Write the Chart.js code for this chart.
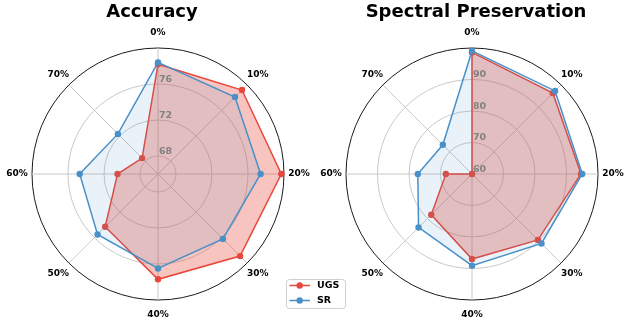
<!DOCTYPE html>
<html>
<head>
<meta charset="utf-8">
<script src="https://cdn.jsdelivr.net/npm/chart.js@4.4.1/dist/chart.umd.min.js"></script>
<style>
  html, body { margin: 0; padding: 0; background: #ffffff; }
  #wrap { position: relative; width: 630px; height: 321px; }
  #wrap canvas { position: absolute; left: 0; top: 0; }
</style>
</head>
<body>
<div id="wrap">
  <canvas id="accuracy" width="630" height="321"></canvas>
  <canvas id="spectral" width="630" height="321"></canvas>
</div>
<script>
// Noise levels around the radar
const categories = ['0%', '10%', '20%', '30%', '40%', '50%', '60%', '70%'];

// Accuracy per noise level
const accuracyUGS = [78.2, 79.2, 79.7, 78.9, 77.7, 74.3, 70.5, 68.5];
const accuracySR  = [78.4, 78.1, 77.4, 76.2, 76.5, 75.5, 74.7, 72.3];

// Spectral preservation per noise level
const spectralUGS = [98.6, 96.3, 94.6, 89.6, 87.0, 78.3, 68.3, 60.0];
const spectralSR  = [99.1, 97.3, 95.0, 91.2, 89.1, 84.0, 77.2, 73.1];

// Radial ranges and labelled rings
const accuracyRange = [66, 80];
const accuracyTicks = [68, 72, 76];
const spectralRange = [60, 100];
const spectralTicks = [60, 70, 80, 90];

const seriesNames = ['UGS', 'SR'];
const RED = '#e8473b';
const BLUE = '#4a90c8';
const FONT = '"DejaVu Sans", "Liberation Sans", sans-serif';

function datasets(ugs, sr) {
  return [
    {
      label: seriesNames[0], data: ugs, order: 2,
      borderColor: RED, backgroundColor: 'rgba(232,71,59,0.32)', borderWidth: 1.5,
      pointRadius: 3.2, pointBorderWidth: 0, pointBackgroundColor: RED, fill: true
    },
    {
      label: seriesNames[1], data: sr, order: 1,
      borderColor: BLUE, backgroundColor: 'rgba(74,144,200,0.12)', borderWidth: 1.5,
      pointRadius: 3.2, pointBorderWidth: 0, pointBackgroundColor: BLUE, fill: true
    }
  ];
}

// Titles, ring values, spoke labels and (optionally) the legend
const decor = {
  id: 'decor',
  afterDatasetsDraw(chart, args, opts) {
    const r = chart.scales.r;
    const ctx = chart.ctx;
    ctx.save();

    // ring values along the 0% spoke
    ctx.font = 'bold 9.5px ' + FONT;
    ctx.fillStyle = '#828282';
    ctx.textAlign = 'left';
    ctx.textBaseline = 'alphabetic';
    opts.ticks.forEach(v => {
      const p = r.getPointPositionForValue(0, v);
      ctx.fillText(String(v), p.x + 1, p.y - 2.5);
    });

    // spoke labels
    ctx.font = 'bold 9px ' + FONT;
    ctx.fillStyle = '#000000';
    ctx.textAlign = 'center';
    ctx.textBaseline = 'middle';
    chart.data.labels.forEach((lab, i) => {
      const p = r.getPointPosition(i, r.drawingArea + 15);
      ctx.fillText(lab, p.x, p.y);
    });

    // title
    ctx.font = 'bold 18px ' + FONT;
    ctx.textAlign = 'center';
    ctx.textBaseline = 'alphabetic';
    ctx.fillText(opts.title, r.xCenter + opts.titleShift, 17);

    // legend
    if (opts.legend) {
      const L = opts.legend;
      ctx.fillStyle = 'rgba(255,255,255,0.85)';
      ctx.strokeStyle = '#d0d0d0';
      ctx.lineWidth = 1;
      ctx.beginPath();
      ctx.roundRect(L.x + 0.5, L.y + 0.5, L.w, L.h, 3);
      ctx.fill();
      ctx.stroke();
      ctx.font = 'bold 9.5px ' + FONT;
      ctx.textAlign = 'left';
      ctx.textBaseline = 'middle';
      chart.data.datasets.forEach((ds, i) => {
        const y = L.y + 6.5 + i * 15;
        ctx.strokeStyle = ds.borderColor;
        ctx.lineWidth = 1.5;
        ctx.beginPath();
        ctx.moveTo(L.x + 3.5, y);
        ctx.lineTo(L.x + 24, y);
        ctx.stroke();
        ctx.fillStyle = ds.pointBackgroundColor;
        ctx.beginPath();
        ctx.arc(L.x + 13.7, y, 3.2, 0, Math.PI * 2);
        ctx.fill();
        ctx.fillStyle = '#000000';
        ctx.fillText(ds.label, L.x + 31, y + 0.5);
      });
    }
    ctx.restore();
  }
};

function radar(id, ugs, sr, range, ticks, padding, decorOpts) {
  const [min, max] = range;
  return new Chart(document.getElementById(id), {
    type: 'radar',
    data: { labels: categories, datasets: datasets(ugs, sr) },
    options: {
      responsive: false,
      animation: false,
      layout: { padding },
      plugins: {
        legend: { display: false },
        title: { display: false },
        tooltip: { enabled: false },
        decor: Object.assign({ ticks }, decorOpts)
      },
      elements: { line: { tension: 0 } },
      scales: {
        r: {
          min, max,
          afterBuildTicks(scale) {
            const vals = [min].concat(ticks.filter(v => v > min), [max]);
            scale.ticks = vals.map(v => ({ value: v }));
          },
          ticks: { display: false },
          pointLabels: { display: false },
          angleLines: { display: true, color: '#c9c9c9', lineWidth: 1 },
          grid: {
            circular: true,
            lineWidth: 1,
            color: c => (c.tick && c.tick.value === max) ? '#1a1a1a' : '#c9c9c9'
          }
        }
      }
    },
    plugins: [decor]
  });
}

radar('accuracy', accuracyUGS, accuracySR, accuracyRange, accuracyTicks,
  { left: 32, top: 48, right: 346, bottom: 21 },
  { title: 'Accuracy', titleShift: -6,
    legend: { x: 286, y: 279, w: 59, h: 29 } });

radar('spectral', spectralUGS, spectralSR, spectralRange, spectralTicks,
  { left: 346, top: 48, right: 32, bottom: 21 },
  { title: 'Spectral Preservation', titleShift: 4 });
</script>
</body>
</html>
